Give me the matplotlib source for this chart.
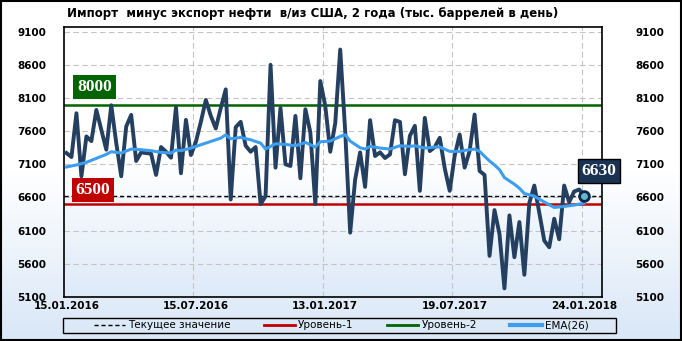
import numpy as np
import matplotlib
matplotlib.use("Agg")
import matplotlib.pyplot as plt
from matplotlib.lines import Line2D
from matplotlib.patches import Rectangle

# weekly values, thousand barrels per day
net_imports = [
    7270, 7210, 7870, 6920, 7520, 7450, 7920, 7620, 7320, 7990,
    7420, 6920, 7670, 7845, 7150, 7280, 7270, 7260, 6940, 7360,
    7290, 7200, 7960, 6965, 7770, 7240, 7440, 7740, 8070, 7830,
    7640, 7950, 8230, 6570, 7660, 7740, 7380, 7290, 7360, 6500,
    6620, 8600, 7050, 7950, 7100, 7075, 7830, 6890, 7930, 7580,
    6500, 8355, 7980, 7290, 7720, 8830, 7600, 6070, 6870, 7280,
    6760, 7765, 7225, 7280, 7195, 7250, 7765, 7740, 6950, 7530,
    7680, 6700, 7800, 7300, 7360, 7500, 7040, 6700, 7230, 7550,
    7050, 7300, 7850, 7000, 6940, 5720, 6410, 6050, 5230, 6330,
    5700, 6230, 5435, 6520, 6780, 6370, 5950, 5850, 6280, 5970,
    6780, 6530, 6690, 6720, 6630,
]

# EMA(26) at these week numbers
ema_weeks = [0, 2, 4, 6, 8, 9, 11, 13, 15, 17, 19, 21, 22, 23, 25, 27, 29, 31, 32,
             33, 35, 37, 39, 40, 42, 44, 46, 48, 50, 51, 53, 55, 56, 57, 59, 60,
             61, 63, 65, 67, 69, 70, 72, 74, 75, 77, 79, 80, 82, 83, 85, 86, 87,
             88, 90, 91, 92, 94, 95, 97, 98, 100, 102, 104]
ema_values = [7060, 7090, 7130, 7190, 7250, 7290, 7270, 7330, 7320, 7305, 7280,
              7270, 7315, 7305, 7345, 7395, 7445, 7495, 7545, 7485, 7505, 7470,
              7420, 7330, 7410, 7400, 7380, 7430, 7360, 7440, 7450, 7520, 7545,
              7450, 7350, 7330, 7370, 7345, 7330, 7380, 7370, 7380, 7345, 7360,
              7360, 7295, 7295, 7310, 7330, 7295, 7150, 7090, 7020, 6900, 6800,
              6740, 6660, 6620, 6575, 6490, 6450, 6465, 6485, 6515]

level_1 = 6500
level_2 = 8000
current = 6630

tick_weeks = [0, 26, 52, 78, 104]
tick_labels = ["15.01.2016", "15.07.2016", "13.01.2017", "19.07.2017", "24.01.2018"]
y_ticks = [5100, 5600, 6100, 6600, 7100, 7600, 8100, 8600, 9100]

title = "Импорт  минус экспорт нефти  в/из США, 2 года (тыс. баррелей в день)"

line_col = "#243f60"
ema_col = "#3d9ef0"
red = "#c00000"
green = "#006400"

fig = plt.figure(figsize=(6.82, 3.41), dpi=100)

# light gradient behind everything
bg = fig.add_axes([0, 0, 1, 1], zorder=-10)
grad = np.linspace(0, 1, 256).reshape(-1, 1)
bg.imshow(grad, aspect="auto", extent=[0, 1, 0, 1], origin="upper",
          cmap=matplotlib.colors.LinearSegmentedColormap.from_list("g", ["#ffffff", "#ffffff", "#d9e7f7"]))
bg.set_axis_off()
fig.patches.append(Rectangle((0.001, 0.002), 0.997, 0.995, transform=fig.transFigure,
                             fill=False, edgecolor="black", lw=1.5))

ax = fig.add_axes([64 / 682, 44 / 341, 538 / 682, 270 / 341])
ax.set_facecolor("none")
x_max = 107.6
y_min, y_max = 5100, 9170
ax.imshow(grad, aspect="auto", extent=[-0.5, x_max, y_min, y_max], origin="upper", zorder=0,
          cmap=matplotlib.colors.LinearSegmentedColormap.from_list("p", ["#ffffff", "#ffffff", "#ddeaf8"]))

weeks = np.arange(len(net_imports))
ax.axhline(current, color="black", lw=1, ls=(0, (3, 2)), zorder=2)
ax.axhline(level_1, color=red, lw=1.8, zorder=2)
ax.axhline(level_2, color=green, lw=1.8, zorder=2)
ax.plot(weeks, net_imports, color=line_col, lw=2.8, zorder=3, solid_joinstyle="round")
ax.plot(ema_weeks, ema_values, color=ema_col, lw=2.2, zorder=4)
ax.plot(weeks[-1], net_imports[-1], "o", ms=7, mfc="#63b6cc", mec="#0d2547", mew=2, zorder=5)

ax.set_xlim(-0.5, x_max)
ax.set_ylim(y_min, y_max)
ax.set_yticks(y_ticks)
ax.set_yticklabels([str(v) for v in y_ticks], fontsize=7.5, fontweight="bold")
ax.set_xticks(tick_weeks)
ax.set_xticklabels(tick_labels, fontsize=7.5, fontweight="bold")
ax.tick_params(length=0, pad=3)
ax.tick_params(axis="y", pad=13)
for v in y_ticks[1:]:
    ax.axhline(v, color="#c4c4c4", lw=0.8, ls=(0, (5, 3)), zorder=1)
for w in tick_weeks[1:]:
    ax.axvline(w - 0.5, color="#c4c4c4", lw=0.8, ls=(0, (5, 3)), zorder=1)
for s in ax.spines.values():
    s.set_linewidth(1.2)

ax2 = ax.twinx()
ax2.set_ylim(y_min, y_max)
ax2.set_yticks(y_ticks)
ax2.set_yticklabels([str(v) for v in y_ticks], fontsize=7.5, fontweight="bold")
ax2.tick_params(length=0, pad=24)
ax2.set_facecolor("none")
for s in ax2.spines.values():
    s.set_visible(False)

box_font = dict(family="Liberation Serif", fontsize=12.5, fontweight="bold", color="white",
                ha="center", va="center", zorder=6)
ax.text(5.6, 8265, str(level_2), bbox=dict(boxstyle="square,pad=0.22", fc=green, ec="none"), **box_font)
ax.text(5.3, 6716, str(level_1), bbox=dict(boxstyle="square,pad=0.22", fc=red, ec="none"), **box_font)
ax.text(107.0, 6995, str(current), clip_on=False,
        bbox=dict(boxstyle="square,pad=0.22", fc="#1b3353", ec="black", lw=1), **box_font)

fig.text(313 / 682, 1 - 13 / 341, title, ha="center", va="center", fontsize=8.5, fontweight="bold")

handles = [
    Line2D([], [], color="black", lw=1, ls=(0, (3, 2))),
    Line2D([], [], color=red, lw=2),
    Line2D([], [], color=green, lw=2),
    Line2D([], [], color=ema_col, lw=3),
]
labels = ["Текущее значение", "Уровень-1", "Уровень-2", "EMA(26)"]
fig.patches.append(Rectangle((63 / 682, 1 - 333 / 341), 553 / 682, 15 / 341,
                             transform=fig.transFigure, fill=False, edgecolor="black", lw=1))
fig.legend(handles, labels, ncol=4, fontsize=7.5, loc="center",
           bbox_to_anchor=(341 / 682, 1 - 325.5 / 341), frameon=False,
           handlelength=3.0, handletextpad=0.3, columnspacing=3.2,
           borderpad=0, borderaxespad=0)

fig.savefig("out.png", dpi=100)
